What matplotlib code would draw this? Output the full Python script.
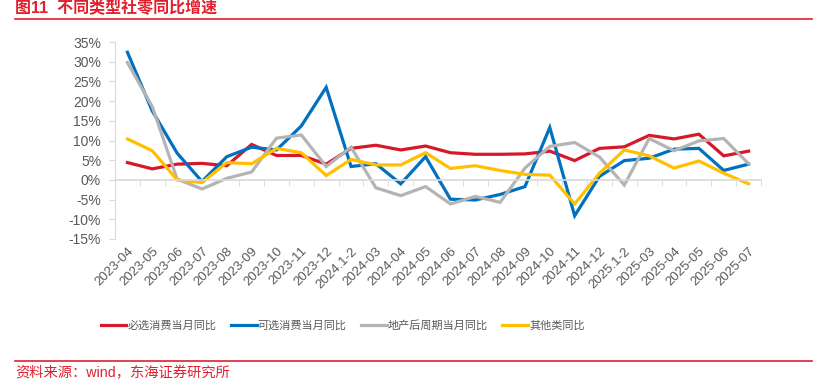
import matplotlib.pyplot as plt
import numpy as np

# categories and series
months = ['2023-04', '2023-05', '2023-06', '2023-07', '2023-08', '2023-09', '2023-10',
          '2023-11', '2023-12', '2024.1-2', '2024-03', '2024-04', '2024-05', '2024-06',
          '2024-07', '2024-08', '2024-09', '2024-10', '2024-11', '2024-12', '2025.1-2',
          '2025-03', '2025-04', '2025-05', '2025-06', '2025-07']
essential = [4.4, 2.8, 4.0, 4.2, 3.6, 9.0, 6.2, 6.2, 4.0, 8.0, 8.8, 7.6, 8.6, 6.9,
             6.5, 6.5, 6.6, 7.3, 4.9, 8.0, 8.4, 11.3, 10.4, 11.6, 6.1, 7.3]
optional = [32.4, 17.5, 6.8, -0.4, 5.9, 8.3, 7.6, 13.7, 23.5, 3.4, 4.1, -1.0, 5.9, -4.9,
            -5.1, -3.7, -1.7, 13.3, -9.1, 0.9, 4.9, 5.5, 7.8, 8.0, 2.4, 4.0]
property_chain = [29.8, 18.6, 0.2, -2.3, 0.4, 2.0, 10.6, 11.4, 3.4, 8.3, -2.0, -4.0, -1.7, -6.1,
                  -4.2, -5.7, 3.0, 8.5, 9.5, 5.8, -1.3, 10.5, 7.4, 9.9, 10.5, 4.1]
others = [10.4, 7.4, 0.0, -0.7, 4.4, 4.1, 8.0, 6.9, 1.1, 5.2, 3.8, 3.8, 6.9, 2.9,
          3.6, 2.4, 1.4, 1.2, -6.1, 1.7, 7.6, 6.1, 3.0, 4.8, 1.7, -1.0]

names = ['必选消费当月同比', '可选消费当月同比', '地产后周期当月同比', '其他类同比']
colors = ['#D7182A', '#0070C0', '#B4B4B4', '#FFC000']

plt.rcParams['font.family'] = ['Liberation Sans', 'Noto Sans CJK SC']
red = '#E0202E'
grey_txt = '#595959'
axis_col = '#D9D9D9'

fig = plt.figure(figsize=(8.2, 3.84), dpi=100)
ax = fig.add_axes([115 / 820, 1 - 239 / 384, (761 - 115) / 820, (239 - 42) / 384])

x = np.arange(len(months))
for ys, name, c in zip([essential, optional, property_chain, others], names, colors):
    ax.plot(x, ys, color=c, lw=2.3, label=name, solid_joinstyle='miter')

ax.set_xlim(-0.5, len(months) - 0.5)
ax.set_ylim(-15, 35)
ax.set_yticks(np.arange(-15, 36, 5))
ax.set_yticklabels([f'{v}%' for v in range(-15, 36, 5)])

for s in ['top', 'right']:
    ax.spines[s].set_visible(False)
ax.spines['left'].set_color(axis_col)
ax.spines['bottom'].set_position(('data', 0))
ax.spines['bottom'].set_color(axis_col)
ax.spines['bottom'].set_linewidth(1.2)

ax.set_xticks(x)
ax.set_xticks(np.arange(0.5, len(months), 1), minor=True)
ax.set_xticklabels(months, rotation=45, ha='right', va='top', rotation_mode='anchor')
ax.tick_params(axis='x', which='major', length=0, pad=47, labelsize=9.5, labelcolor=grey_txt)
ax.tick_params(axis='x', which='minor', length=4, color=axis_col, direction='out')
ax.tick_params(axis='y', length=4, color=axis_col, labelsize=10, labelcolor=grey_txt, pad=6)

leg = fig.legend(loc='center', bbox_to_anchor=(0.418, 1 - 325 / 384), ncol=4, frameon=False,
                 fontsize=8, handlelength=2.3, columnspacing=1.3, handletextpad=0.1)
for t in leg.get_texts():
    t.set_color(grey_txt)

# header and footer
fig.text(15 / 820, 1 - 8 / 384, '图11  不同类型社零同比增速', color=red, fontsize=11.5,
         fontweight='bold', va='center', ha='left')
fig.add_artist(plt.Line2D([15 / 820, 812 / 820], [1 - 19 / 384] * 2, color=red, lw=1.2))
fig.add_artist(plt.Line2D([15 / 820, 812 / 820], [1 - 361 / 384] * 2, color=red, lw=1.2))
fig.text(15 / 820, 1 - 373 / 384, '资料来源：wind，东海证券研究所', color=red, fontsize=10.3,
         va='center', ha='left')

fig.savefig('out.png', dpi=100)
